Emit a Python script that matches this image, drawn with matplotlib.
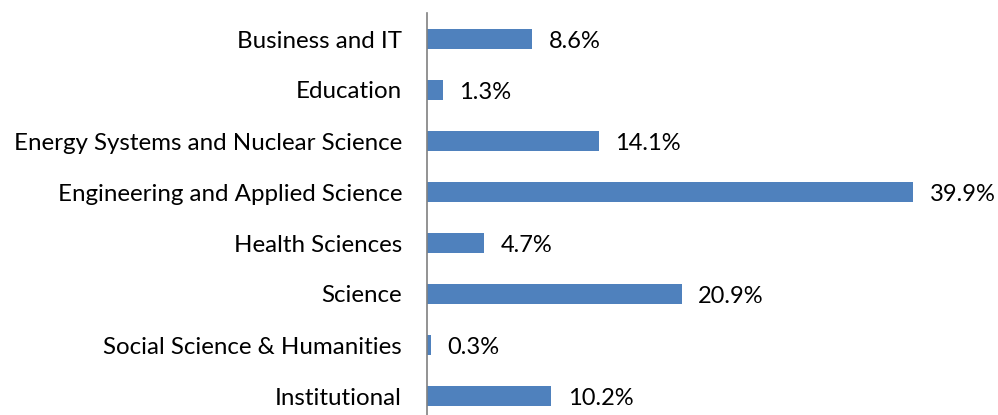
import matplotlib
matplotlib.use("Agg")
import matplotlib.pyplot as plt

categories = [
    "Business and IT",
    "Education",
    "Energy Systems and Nuclear Science",
    "Engineering and Applied Science",
    "Health Sciences",
    "Science",
    "Social Science & Humanities",
    "Institutional",
]
shares = [8.6, 1.3, 14.1, 39.9, 4.7, 20.9, 0.3, 10.2]
value_labels = ["8.6%", "1.3%", "14.1%", "39.9%", "4.7%", "20.9%", "0.3%", "10.2%"]

plt.rcParams["font.family"] = ["Lato", "DejaVu Sans"]

fig = plt.figure(figsize=(9.98, 4.15), dpi=100)
W, H = 998, 415
left, top, bottom = 427, 13.5, 415
ax = fig.add_axes([left / W, 1 - bottom / H, 1 - left / W, (bottom - top) / H])

pos = list(range(len(categories)))
ax.barh(pos, shares, height=0.4, color="#4F81BD")

# 51 px per category, axes clipped at figure bottom
ax.set_ylim(-0.5 + (bottom - top) / 51, -0.5)
ax.set_xlim(0, (W - left) / 12.18)

ax.set_yticks(pos)
ax.set_yticklabels(categories, fontsize=17.4)
ax.tick_params(axis="y", length=0, pad=18)
ax.set_xticks([])

for side in ["top", "right", "bottom"]:
    ax.spines[side].set_visible(False)
ax.spines["left"].set_color("#808080")
ax.spines["left"].set_linewidth(1.2)

for y, v, lab in zip(pos, shares, value_labels):
    ax.annotate(lab, xy=(v, y), xytext=(12, -2), textcoords="offset points",
                va="center", ha="left", fontsize=17)

plt.savefig("out.png", dpi=100)
plt.close()
